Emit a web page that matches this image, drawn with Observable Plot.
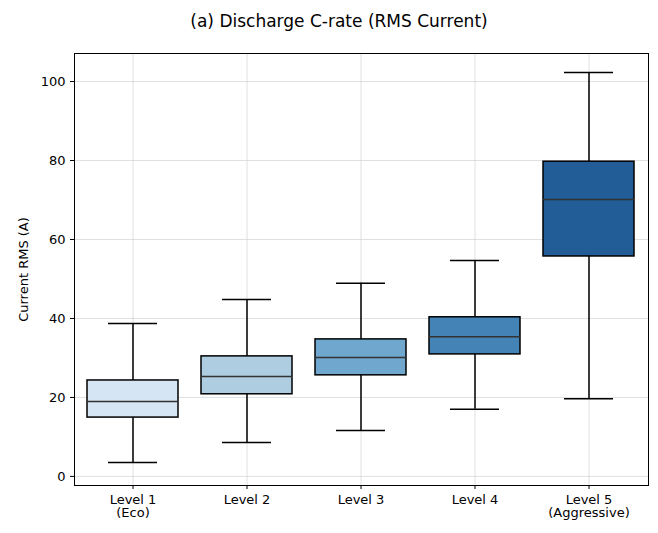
<!DOCTYPE html>
<html><head><meta charset="utf-8">
<script src="https://cdn.jsdelivr.net/npm/d3@7"></script>
<script src="https://cdn.jsdelivr.net/npm/@observablehq/plot@0.6"></script>
<style>body{margin:0;background:#fff;font-family:"DejaVu Sans",sans-serif}
#t{height:40px;line-height:42px;text-align:center;font-size:17px;color:#000;padding-left:20px}</style>
</head><body>
<div id="t">(a) Discharge C-rate (RMS Current)</div>
<div id="c"></div>
<script>
const levels = ["Level 1\n(Eco)","Level 2","Level 3","Level 4","Level 5\n(Aggressive)"];
const mins = [3.5, 8.6, 11.6, 17.0, 19.7];
const q1s = [14.9, 20.8, 25.6, 30.9, 55.7];
const medians = [19.0, 25.3, 30.1, 35.4, 70.1];
const q3s = [24.3, 30.4, 34.7, 40.3, 79.7];
const maxs = [38.7, 44.8, 48.9, 54.7, 102.3];
const colors = ["#d6e5f3","#aecde1","#6fa7cf","#4483b6","#225d98"];
const data = levels.map((l,i)=>({l,min:mins[i],q1:q1s[i],med:medians[i],q3:q3s[i],max:maxs[i],c:colors[i]}));
const plot = Plot.plot({
  width:658, height:493, marginTop:13, marginBottom:48, marginLeft:74, marginRight:10,
  style:{fontSize:"13px", fontFamily:"DejaVu Sans, sans-serif", color:"#000"},
  x:{domain:levels, paddingInner:0.2, paddingOuter:0.1},
  y:{domain:[-2.3,107.1]},
  marks:[
    Plot.gridX(levels,{stroke:"#ccc", strokeOpacity:0.6}),
    Plot.gridY([0,20,40,60,80,100],{stroke:"#ccc", strokeOpacity:0.6}),
    Plot.axisX({label:null, tickSize:4, lineHeight:1.0, fontSize:13}),
    Plot.axisY({ticks:[0,20,40,60,80,100], label:"Current RMS (A)", labelAnchor:"center", labelArrow:"none", labelOffset:56, tickSize:4, fontSize:13}),
    Plot.ruleX(data,{x:"l", y1:"min", y2:"max", stroke:"#000", strokeWidth:1.5}),
    Plot.tickY(data,{x:"l", y:"min", stroke:"#000", strokeWidth:1.5, insetLeft:21, insetRight:21}),
    Plot.tickY(data,{x:"l", y:"max", stroke:"#000", strokeWidth:1.5, insetLeft:21, insetRight:21}),
    Plot.barY(data,{x:"l", y1:"q1", y2:"q3", fill:"c", stroke:"#000", strokeWidth:1.5}),
    Plot.tickY(data,{x:"l", y:"med", stroke:"#333", strokeWidth:1.5}),
    Plot.frame({stroke:"#000"})
  ]
});
document.getElementById("c").appendChild(plot);
</script></body></html>
